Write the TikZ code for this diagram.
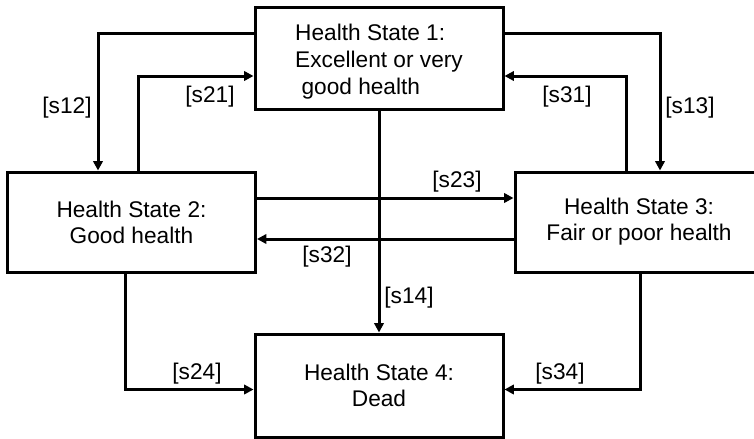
\documentclass[tikz,border=0pt]{standalone}
\usepackage{fontspec}
\setmainfont{Liberation Sans}
\usetikzlibrary{arrows.meta,calc}

\begin{document}
\begin{tikzpicture}[x=0.75pt,y=-0.75pt,
  stateBox/.style={draw,line width=2.25pt,minimum width=186pt,minimum height=75pt,
    align=center,inner sep=0pt,font=\fontsize{17}{19.5}\selectfont},
  trans/.style={line width=2.25pt,-{Triangle[length=7pt,width=7pt]}},
  rate/.style={inner sep=0pt,font=\fontsize{17}{19.5}\selectfont}]

  \useasboundingbox (0,0) rectangle (754,439);

  \node[stateBox,minimum height=76.5pt,align=left,text height=59pt,
    font=\fontsize{17}{20.25}\selectfont] (state1) at (379,58)
    {Health State 1:\\Excellent or very\\\hspace*{0.28em}good health};
  \node[stateBox] (state2) at (131.5,222) {Health State 2:\\Good health};
  \node[stateBox] (state3) at (639,222) {Health State 3:\\Fair or poor health};
  \node[stateBox,minimum height=77.25pt] (state4) at (379,385.5) {Health State 4:\\Dead};

  \draw[trans] ($(state1.west)+(0,-25)$) -| ($(state2.north)+(-33.5,0)$);
  \draw[trans] ($(state2.north)+(6.5,0)$) |- ($(state1.west)+(0,18)$);
  \draw[trans] ($(state1.east)+(0,-25)$) -| ($(state3.north)+(21,0)$);
  \draw[trans] ($(state3.north)+(-13,0)$) |- ($(state1.east)+(0,18)$);

  \draw[trans] ($(state2.east)+(0,-24)$) -- ($(state3.west)+(0,-24)$);
  \draw[trans] ($(state3.west)+(0,17)$) -- ($(state2.east)+(0,17)$);
  \draw[trans] (state1.south) -- (state4.north);

  \draw[trans] ($(state2.south)+(-6.5,0)$) |- ($(state4.west)+(0,4)$);
  \draw[trans] ($(state3.south)+(1,0)$) |- ($(state4.east)+(0,4)$);

  \foreach \lab/\px/\py in {12/67/108, 21/210/97, 13/690/108, 31/567/97,
      23/457/182, 32/327/257, 14/409/298, 24/197/374, 34/560/374}
    \node[rate] (rate\lab) at (\px,\py) {[s\lab]};
\end{tikzpicture}
\end{document}
